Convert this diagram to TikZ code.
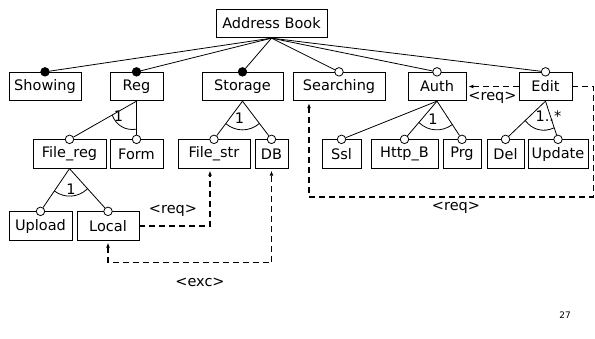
\documentclass[tikz,border=0pt]{standalone}
\usepackage{fontspec}
\setmainfont{DejaVu Sans}
\usetikzlibrary{calc,arrows.meta}
\tikzset{every path/.style={black,line width=0.8pt}, every node/.style={font=\fontsize{14.5}{17}\selectfont, inner sep=0pt},
  feat/.style={draw, minimum height=28.5pt},
  mand/.style={circle, draw, fill=black, minimum size=8.5pt},
  opt/.style={circle, draw, fill=white, minimum size=8.5pt},
  dep/.style={line width=1.6pt, dash pattern=on 6pt off 4pt, -{Latex[length=5pt,width=4pt]}, shorten >=2pt}}
% group arc: parent, first child, second child, radius, label offset, label
\newcommand{\grp}[6]{%
  \draw ($(#1)!#4!(#2)$) to[bend right=40] ($(#1)!#4!(#3)$);
  \node (#1-card) at ($(#1)+#5$) {#6};}

\begin{document}
\begin{tikzpicture}[x=1pt,y=-1pt]
  \useasboundingbox (0,0) rectangle (595,338);
  % features
  \node[feat, minimum width=111pt] (book)      at (271.5, 23.5) {Address Book};
  \node[feat, minimum width=72pt]  (showing)   at ( 45.0, 86.5) {Showing};
  \node[feat, minimum width=53pt]  (reg)       at (136.5, 86.5) {Reg};
  \node[feat, minimum width=81pt]  (storage)   at (242.5, 86.5) {Storage};
  \node[feat, minimum width=92pt]  (searching) at (339.0, 86.5) {Searching};
  \node[feat, minimum width=58pt]  (auth)      at (437.0, 86.5) {Auth};
  \node[feat, minimum width=53pt]  (edit)      at (545.5, 86.5) {Edit};
  \node[feat, minimum width=73pt]  (filereg)   at ( 69.5,154.0) {File\_reg};
  \node[feat, minimum width=53pt]  (form)      at (136.5,154.0) {Form};
  \node[feat, minimum width=72pt]  (filestr)   at (214.0,154.0) {File\_str};
  \node[feat, minimum width=33pt]  (db)        at (271.5,154.0) {DB};
  \node[feat, minimum width=39pt]  (ssl)       at (341.5,154.0) {Ssl};
  \node[feat, minimum width=67pt]  (httpb)     at (404.5,154.0) {Http\_B};
  \node[feat, minimum width=38pt]  (prg)       at (462.0,154.0) {Prg};
  \node[feat, minimum width=37pt]  (del)       at (505.5,154.0) {Del};
  \node[feat, minimum width=60pt]  (update)    at (558.0,154.0) {Update};
  \node[feat, minimum width=63pt]  (upload)    at ( 40.5,226.0) {Upload};
  \node[feat, minimum width=62pt]  (local)     at (108.0,226.0) {Local};
  % mandatory / optional marks
  \foreach \n in {showing,reg,storage}
    \node[mand] (\n-dot) at (\n.north) {};
  \foreach \n in {searching,auth,edit,filereg,form,filestr,db,ssl,httpb,prg,del,update,upload,local}
    \node[opt] (\n-dot) at (\n.north) {};
  % tree edges
  \foreach \n in {showing,reg,storage,searching,auth,edit}
    \draw (book.south) -- (\n-dot);
  \foreach \p/\c in {reg/filereg,reg/form,storage/filestr,storage/db,auth/ssl,auth/httpb,auth/prg,edit/del,edit/update,filereg/upload,filereg/local}
    \draw (\p.south) -- (\c-dot);
  % groups
  \grp{reg.south}{filereg-dot}{form-dot}{28pt}{(-18,15)}{1}
  \grp{storage.south}{filestr-dot}{db-dot}{28pt}{(-3,17)}{1}
  \grp{auth.south}{httpb-dot}{prg-dot}{28pt}{(-4,18)}{1}
  \grp{edit.south}{del-dot}{update-dot}{28pt}{(3,15)}{1..*}
  \grp{filereg.south}{upload-dot}{local-dot}{27pt}{(1.5,21)}{1}
  % constraints
  \coordinate (loopR) at (593.5,197);
  \draw[dep] (edit.west) -- node[below=5pt] (reqA) {<req>} (auth.east);
  \draw[dep] (edit.east) -| (loopR) -| ($(searching.south)+(-30,0)$);
  \node (reqB) at (456,208) {<req>};
  \draw[dep] (local.east) -| ($(filestr.south)+(-4,0)$);
  \node (reqC) at (173,211) {<req>};
  \draw[dep, {Latex[length=5pt,width=4pt]}-{Latex[length=5pt,width=4pt]}, shorten <=2pt] (local.south) |- ($(db.south)+(0,94)$) -- (db.south);
  \node (excA) at (200,282) {<exc>};
  \node[font=\fontsize{9}{10}\selectfont] (page) at (565,315) {27};
\end{tikzpicture}
\end{document}
